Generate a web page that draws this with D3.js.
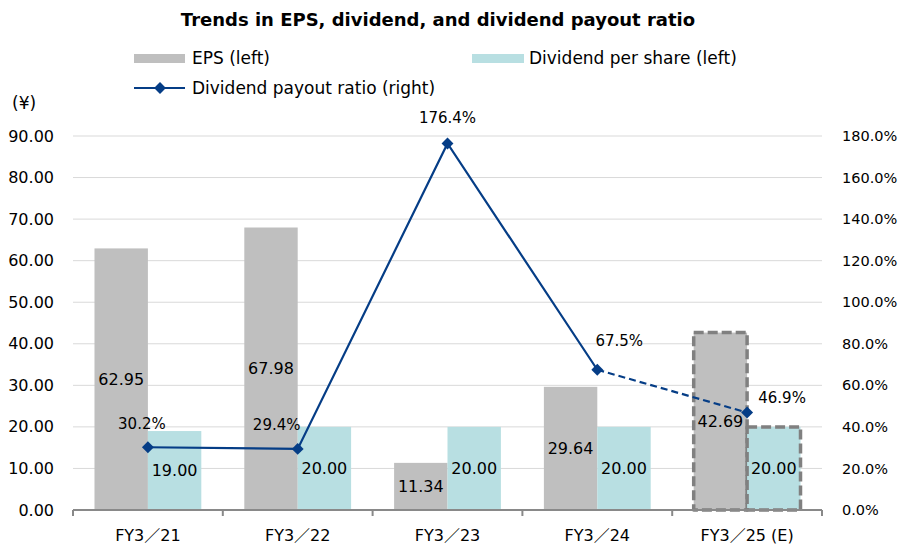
<!DOCTYPE html>
<html>
<head>
<meta charset="utf-8">
<script src="https://cdn.jsdelivr.net/npm/d3@7"></script>
<style>
  body { margin: 0; background: #fff; }
  svg { display: block; font-family: "DejaVu Sans", "Noto Sans CJK JP", sans-serif; }
</style>
</head>
<body>
<svg id="chart" width="901" height="547"></svg>
<script>
// chart data
const categories = ["FY3／21", "FY3／22", "FY3／23", "FY3／24", "FY3／25 (E)"];
const eps = [62.95, 67.98, 11.34, 29.64, 42.69];
const dividend = [19.00, 20.00, 20.00, 20.00, 20.00];
const payout = [30.2, 29.4, 176.4, 67.5, 46.9];
const leftTicks = [0, 10, 20, 30, 40, 50, 60, 70, 80, 90];
const rightTicks = [0, 20, 40, 60, 80, 100, 120, 140, 160, 180];
const estimateIndex = 4; // forecast year drawn dashed

const width = 901, height = 547;
const margin = { left: 73, right: 79, top: 136, bottom: 37 };

const svg = d3.select("#chart");

const colEps = "#bfbfbf";
const colDiv = "#b8dfe2";
const colLine = "#053d86";

const x = d3.scaleBand()
    .domain(categories)
    .range([margin.left, width - margin.right])
    .paddingInner(0.287)
    .paddingOuter(0.1435);

const xSub = d3.scaleBand()
    .domain(["eps", "div"])
    .range([0, x.bandwidth()]);

const yL = d3.scaleLinear().domain([0, 90]).range([height - margin.bottom, margin.top]);
const yR = d3.scaleLinear().domain([0, 180]).range([height - margin.bottom, margin.top]);

// gridlines
svg.append("g")
    .selectAll("line")
    .data(leftTicks.slice(1))
    .enter().append("line")
    .attr("x1", margin.left)
    .attr("x2", width - margin.right)
    .attr("y1", d => yL(d))
    .attr("y2", d => yL(d))
    .attr("stroke", "#d9d9d9")
    .attr("stroke-width", 1);

// left axis labels
svg.append("g")
    .selectAll("text")
    .data(leftTicks)
    .enter().append("text")
    .attr("x", 54)
    .attr("y", d => yL(d))
    .attr("dy", "0.35em")
    .attr("text-anchor", "end")
    .attr("font-size", 16)
    .attr("fill", "#000")
    .text(d => d.toFixed(2));

// right axis labels
svg.append("g")
    .selectAll("text")
    .data(rightTicks)
    .enter().append("text")
    .attr("x", 842)
    .attr("y", d => yR(d))
    .attr("dy", "0.35em")
    .attr("text-anchor", "start")
    .attr("font-size", 14.5)
    .attr("fill", "#000")
    .text(d => d.toFixed(1) + "%");

svg.append("text")
    .attr("x", 12)
    .attr("y", 103)
    .attr("dy", "0.35em")
    .attr("font-size", 17)
    .text("(¥)");

// bars
const groups = svg.append("g")
    .selectAll("g")
    .data(categories)
    .enter().append("g")
    .attr("transform", d => `translate(${x(d)},0)`);

function styleBar(sel, fill) {
    sel.attr("fill", fill)
        .attr("stroke", (d, i) => i === estimateIndex ? "#808080" : "none")
        .attr("stroke-width", 3.5)
        .attr("stroke-dasharray", "10,4")
        .attr("stroke-linejoin", "round");
}

groups.append("rect")
    .attr("x", xSub("eps"))
    .attr("width", xSub.bandwidth())
    .attr("y", (d, i) => yL(eps[i]))
    .attr("height", (d, i) => yL(0) - yL(eps[i]))
    .call(styleBar, colEps);

groups.append("rect")
    .attr("x", xSub("div"))
    .attr("width", xSub.bandwidth())
    .attr("y", (d, i) => yL(dividend[i]))
    .attr("height", (d, i) => yL(0) - yL(dividend[i]))
    .call(styleBar, colDiv);

// bottom axis
const axisY = yL(0);
svg.append("line")
    .attr("x1", margin.left).attr("x2", width - margin.right)
    .attr("y1", axisY).attr("y2", axisY)
    .attr("stroke", "#898989").attr("stroke-width", 2);

const bounds = categories.map(c => x(c) - x.step() * x.paddingInner() / 2);
bounds.push(width - margin.right);
svg.append("g")
    .selectAll("line")
    .data(bounds)
    .enter().append("line")
    .attr("x1", d => d).attr("x2", d => d)
    .attr("y1", axisY).attr("y2", axisY + 6)
    .attr("stroke", "#898989").attr("stroke-width", 2);

svg.append("g")
    .selectAll("text")
    .data(categories)
    .enter().append("text")
    .attr("x", d => x(d) + x.bandwidth() / 2)
    .attr("y", 535)
    .attr("dy", "0.35em")
    .attr("text-anchor", "middle")
    .attr("font-size", 16)
    .text(d => d);

// bar value labels (centered in bar)
groups.append("text")
    .attr("x", xSub("eps") + xSub.bandwidth() / 2)
    .attr("y", (d, i) => yL(eps[i] / 2))
    .attr("dy", "0.35em")
    .attr("text-anchor", "middle")
    .attr("font-size", 16)
    .text((d, i) => eps[i].toFixed(2));

groups.append("text")
    .attr("x", xSub("div") + xSub.bandwidth() / 2)
    .attr("y", (d, i) => yL(dividend[i] / 2))
    .attr("dy", "0.35em")
    .attr("text-anchor", "middle")
    .attr("font-size", 16)
    .text((d, i) => dividend[i].toFixed(2));

// payout line
const pts = categories.map((c, i) => [x(c) + x.bandwidth() / 2, yR(payout[i])]);
const line = d3.line();
svg.append("path")
    .attr("d", line(pts.slice(0, estimateIndex)))
    .attr("fill", "none")
    .attr("stroke", colLine)
    .attr("stroke-width", 2.2);
svg.append("path")
    .attr("d", line(pts.slice(estimateIndex - 1)))
    .attr("fill", "none")
    .attr("stroke", colLine)
    .attr("stroke-width", 2.2)
    .attr("stroke-dasharray", "7,4");

const diamond = d3.symbol().type(d3.symbolDiamond2).size(90);
svg.append("g")
    .selectAll("path")
    .data(pts)
    .enter().append("path")
    .attr("transform", d => `translate(${d[0]},${d[1]})`)
    .attr("d", diamond)
    .attr("fill", colLine);

// payout labels: placement relative to the marker
const labelDx = [-6, -21, 0, 22, 35];
const labelDy = [-24, -24, -26, -29, -15];
svg.append("g")
    .selectAll("text")
    .data(pts)
    .enter().append("text")
    .attr("x", (d, i) => d[0] + labelDx[i])
    .attr("y", (d, i) => d[1] + labelDy[i])
    .attr("dy", "0.35em")
    .attr("text-anchor", "middle")
    .attr("font-size", 15)
    .text((d, i) => payout[i].toFixed(1) + "%");

// title
svg.append("text")
    .attr("x", 438)
    .attr("y", 20)
    .attr("dy", "0.35em")
    .attr("text-anchor", "middle")
    .attr("font-size", 18)
    .attr("font-weight", "bold")
    .text("Trends in EPS, dividend, and dividend payout ratio");

// legend
const legend = svg.append("g").attr("font-size", 17);
legend.append("rect").attr("x", 134).attr("y", 54).attr("width", 51).attr("height", 9).attr("fill", colEps);
legend.append("text").attr("x", 192).attr("y", 58).attr("dy", "0.35em").text("EPS (left)");
legend.append("rect").attr("x", 472).attr("y", 54).attr("width", 52).attr("height", 9).attr("fill", colDiv);
legend.append("text").attr("x", 529).attr("y", 58).attr("dy", "0.35em").text("Dividend per share (left)");
legend.append("line").attr("x1", 134).attr("x2", 185).attr("y1", 88).attr("y2", 88)
    .attr("stroke", colLine).attr("stroke-width", 2.2);
legend.append("path").attr("transform", "translate(160,88)").attr("d", diamond).attr("fill", colLine);
legend.append("text").attr("x", 192).attr("y", 88).attr("dy", "0.35em").text("Dividend payout ratio (right)");
</script>
</body>
</html>
